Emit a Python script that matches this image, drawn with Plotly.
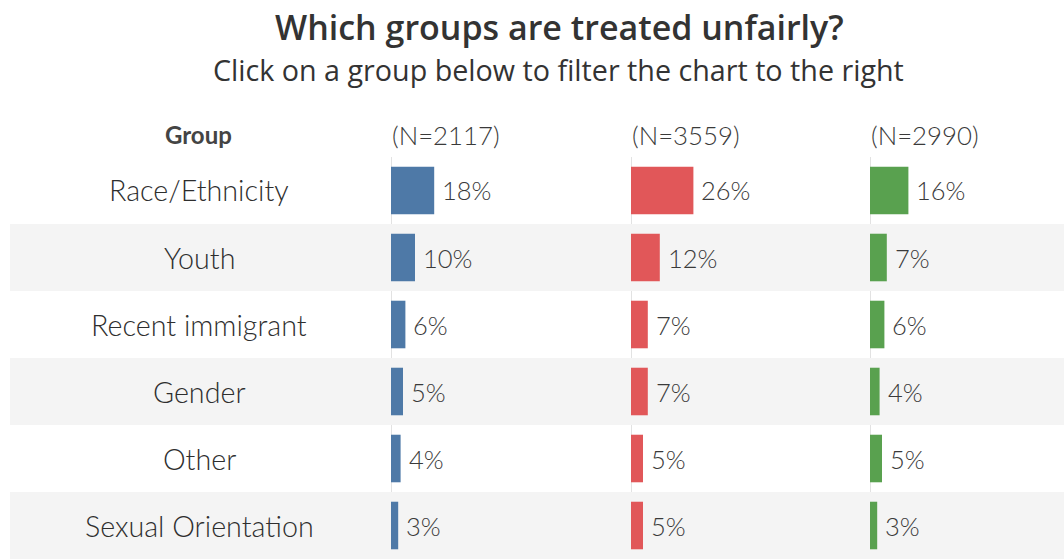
import plotly.graph_objects as go

groups = ["Race/Ethnicity", "Youth", "Recent immigrant", "Gender", "Other", "Sexual Orientation"]
series_n = ["(N=2117)", "(N=3559)", "(N=2990)"]
blue_vals = [18, 10, 6, 5, 4, 3]
red_vals = [26, 12, 7, 7, 5, 5]
green_vals = [16, 7, 6, 4, 5, 3]
colors = ["#4e79a7", "#e15759", "#59a14f"]

W, H = 1064, 559
FONT = "Lato"
px_per_pct = 2.4
col_x = [391, 631, 870, 1064]
top_px = 157

fig = go.Figure()
all_vals = [blue_vals, red_vals, green_vals]
for i, vals in enumerate(all_vals):
    xa = "x" if i == 0 else f"x{i+1}"
    fig.add_trace(go.Bar(
        x=vals, y=groups, orientation="h", marker_color=colors[i],
        marker_line_width=0, width=0.71, xaxis=xa, yaxis="y",
        hoverinfo="skip", showlegend=False))
    for g, v in zip(groups, vals):
        fig.add_annotation(x=v, y=g, xref=xa, yref="y", text=f"{v}%",
                           showarrow=False, xanchor="left", yanchor="middle", xshift=6,
                           font=dict(family=FONT, size=25.5, color="#3a3a3a", weight=300))
    # header
    fig.add_annotation(x=col_x[i] / W, y=1 - 135 / H, xref="paper", yref="paper",
                       text=series_n[i], showarrow=False, xanchor="left", yanchor="middle",
                       xshift=-1,
                       font=dict(family=FONT, size=25.8, color="#3a3a3a", weight=300))
    dom = [col_x[i] / W, col_x[i + 1] / W]
    width_px = col_x[i + 1] - col_x[i]
    key = "xaxis" if i == 0 else f"xaxis{i+1}"
    fig.layout[key] = dict(domain=dom, range=[0, width_px / px_per_pct],
                           showgrid=False, zeroline=False, showticklabels=False,
                           fixedrange=True, anchor="y")
    # zero line
    fig.add_shape(type="line", xref=xa, yref="paper", x0=0, x1=0,
                  y0=0, y1=1 - top_px / H, line=dict(color="#e2e2e2", width=2),
                  layer="below")

# row bands
for j, g in enumerate(groups):
    if j % 2 == 1:
        fig.add_shape(type="rect", xref="paper", yref="y", x0=10 / W, x1=1,
                      y0=j - 0.5, y1=j + 0.5, fillcolor="#f4f4f4",
                      line_width=0, layer="below")
    fig.add_annotation(x=199 / W, y=g, xref="paper", yref="y", text=g,
                       showarrow=False, xanchor="center", yanchor="middle",
                       font=dict(family=FONT, size=28.7, color="#2e2e2e", weight=300))

fig.add_annotation(x=198 / W, y=1 - 134 / H, xref="paper", yref="paper",
                   text="<b>Group</b>", showarrow=False, xanchor="center", yanchor="middle",
                   font=dict(family=FONT, size=24, color="#444444"))

fig.add_annotation(x=559 / W, y=1 - 27 / H, xref="paper", yref="paper",
                   text="Which groups are treated unfairly?", showarrow=False,
                   xanchor="center", yanchor="middle",
                   font=dict(family="Open Sans", size=34, color="#333333", weight=600))
fig.add_annotation(x=558 / W, y=1 - 70 / H, xref="paper", yref="paper",
                   text="Click on a group below to filter the chart to the right",
                   showarrow=False, xanchor="center", yanchor="middle",
                   font=dict(family="Open Sans", size=28.7, color="#333333"))

fig.update_layout(
    width=W, height=H, margin=dict(l=0, r=0, t=0, b=0),
    paper_bgcolor="white", plot_bgcolor="rgba(0,0,0,0)",
    yaxis=dict(domain=[0, 1 - top_px / H], range=[5.5, -0.5], showgrid=False,
               zeroline=False, showticklabels=False, fixedrange=True),
    bargap=0.29,
)

fig.write_html("out.html", config={"displayModeBar": False},
               post_script="document.body.style.margin='0';document.body.style.overflow='hidden';")
